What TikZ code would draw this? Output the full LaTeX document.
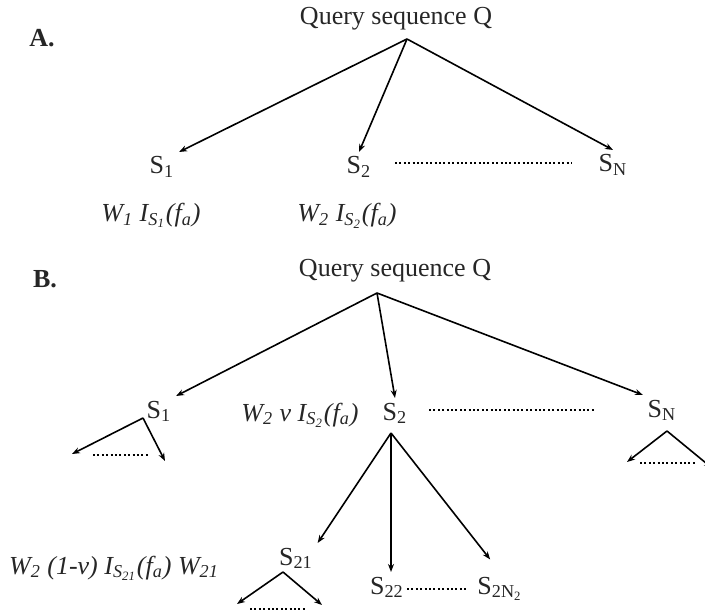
\documentclass[tikz,border=0pt]{standalone}
\usepackage{fontspec}
\setmainfont{Liberation Serif}
\usetikzlibrary{arrows.meta,positioning}

\newcommand{\sbs}[1]{\textsubscript{#1}}
\newcommand{\qfont}{\fontsize{13}{15}\selectfont}

\tikzset{
  lbl/.style={inner sep=0pt,anchor=base,font=\qfont\bfseries},
  seq/.style={inner sep=2pt,anchor=base,font=\qfont},
  wt/.style={inner sep=0pt,anchor=base,font=\qfont\itshape},
  dots/.style={line width=1pt,dash pattern=on 1pt off 1.2pt},
}

\begin{document}
\begin{tikzpicture}[x=0.5pt,y=-0.5pt,>={Stealth[length=4pt,width=3pt]},thick,text=black!85]
\useasboundingbox (0,0) rectangle (705,614);

% A. one level
\node[lbl] (la) at (42,47) {A.};
\node[seq] (qa) at (396,25) {Query sequence Q};
\coordinate (ra) at (407,39);
\node[seq] (a1) at (162,174) {S\sbs{1}};
\node[seq] (a2) at (359,174) {S\sbs{2}};
\node[seq] (an) at (613,172) {S\sbs{N}};
\node[wt] (w1) at (151,222) {W\sbs{1} I\sbs{S\sbs{1}}(f\sbs{a})};
\node[wt] (w2) at (347,222) {W\sbs{2} I\sbs{S\sbs{2}}(f\sbs{a})};
\draw[->] (ra) -- (a1.north east);
\draw[->] (ra) -- (a2.north);
\draw[->] (ra) -- (an.north);
\draw[dots] (395,163) -- (572,163);

% B. two levels
\node[lbl] (lb) at (45,287) {B.};
\node[seq] (qb) at (395,277) {Query sequence Q};
\coordinate (rb) at (377,293);
\node[seq] (b1) at (159,418) {S\sbs{1}};
\node[wt] (wv) at (300,421) {W\sbs{2} v I\sbs{S\sbs{2}}(f\sbs{a})};
\node[seq] (b2) at (395,420) {S\sbs{2}};
\node[seq] (bn) at (662,417) {S\sbs{N}};
\draw[->] (rb) -- (b1.north east);
\draw[->] (rb) -- (b2.north);
\draw[->] (rb) -- (bn.north west);
\draw[dots] (429,410) -- (595,410);

% small fans below S1 and SN
\coordinate (t1) at (143,418);
\coordinate (t1l) at (72,454);
\coordinate (t1r) at (165,461);
\draw[->] (t1) -- (t1l);
\draw[->] (t1) -- (t1r);
\draw[dots] (93,455) -- (148,455);
\coordinate (tn) at (667,431);
\coordinate (tnl) at (627,462);
\coordinate (tnr) at (712,468);
\draw[->] (tn) -- (tnl);
\draw[->] (tn) -- (tnr);
\draw[dots] (640,463) -- (697,463);

% children of S2
\coordinate (r2) at (391,433);
\node[seq] (b21) at (296,565) {S\sbs{21}};
\node[seq] (b22) at (387,594) {S\sbs{22}};
\node[seq] (b2n) at (500,594) {S\sbs{2N\sbs{2}}};
\node[wt] (w21) at (114,574) {W\sbs{2} (1-v) I\sbs{S\sbs{21}}(f\sbs{a}) W\sbs{21}};
\draw[->] (r2) -- (b21.north east);
\draw[->] (r2) -- (r2 |- b22.north);
\draw[->,shorten >=8pt] (r2) -- (b2n.north);
\draw[dots] (407,589) -- (467,589);
\coordinate (t21) at (283,572);
\coordinate (t21l) at (237,604);
\coordinate (t21r) at (322,605);
\draw[->] (t21) -- (t21l);
\draw[->] (t21) -- (t21r);
\draw[dots] (250,609) -- (305,609);
\end{tikzpicture}
\end{document}
